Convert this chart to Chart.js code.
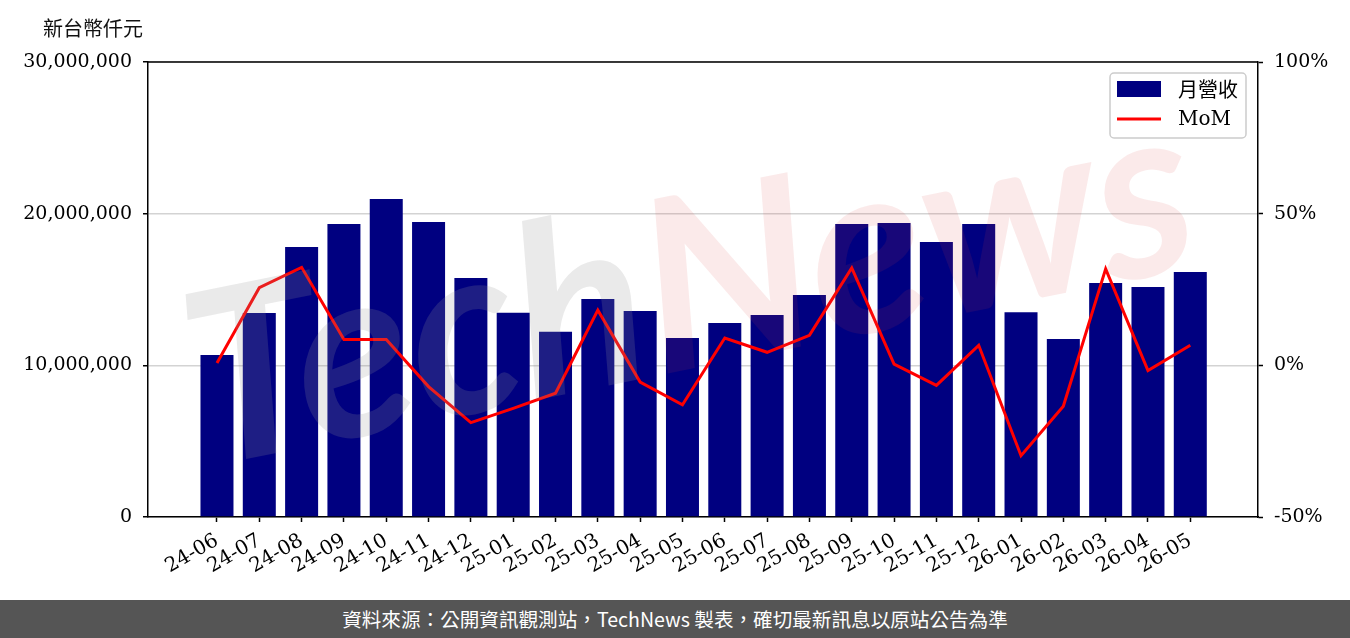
<!DOCTYPE html>
<html lang="zh-Hant">
<head>
  <meta charset="UTF-8" />
  <title>月營收</title>
  <script src="https://cdn.jsdelivr.net/npm/chart.js"></script>
  <style>
    body {
      margin: 0;
      background: #ffffff;
    }

    .wrap {
      position: relative;
      width: 1350px;
      height: 600px;
    }

    #unit {
      position: absolute;
      left: 43px;
      top: 13px;
      font-size: 20px;
      font-family: "Noto Sans CJK TC", sans-serif;
      color: #111;
    }

    .footer {
      width: 1350px;
      height: 38px;
      background: #555555;
      color: #ffffff;
      text-align: center;
      line-height: 38px;
      font-size: 19.6px;
      font-family: "Noto Sans CJK TC", sans-serif;
    }
  </style>
</head>
<body>

<div class="wrap">
  <div id="unit">新台幣仟元</div>
  <canvas id="revChart" width="1350" height="600"></canvas>
</div>
<div class="footer">資料來源：公開資訊觀測站，TechNews 製表，確切最新訊息以原站公告為準</div>

<script>
// data
const months = ['24-06', '24-07', '24-08', '24-09', '24-10', '24-11', '24-12',
  '25-01', '25-02', '25-03', '25-04', '25-05', '25-06', '25-07', '25-08', '25-09',
  '25-10', '25-11', '25-12', '26-01', '26-02', '26-03', '26-04', '26-05'];

// 月營收 (新台幣仟元)
const revenue = [10680000, 13450000, 17800000, 19320000, 20970000, 19450000, 15760000,
  13470000, 12220000, 14370000, 13580000, 11800000, 12790000, 13320000, 14640000, 19320000,
  19380000, 18130000, 19320000, 13500000, 11730000, 15430000, 15160000, 16150000];

// MoM (%)
const mom = [0.8, 25.6, 32.3, 8.5, 8.5, -7.0, -18.9,
  -14.2, -9.2, 18.2, -5.5, -13.0, 9.0, 4.3, 9.9, 32.1,
  0.4, -6.6, 6.6, -29.8, -13.5, 31.8, -1.7, 6.6];

const revTicks = [0, 10000000, 20000000, 30000000];
const pctTicks = [-50, 0, 50, 100];

const serif = '"DejaVu Serif", serif';

// faint TechNews mark across the plot
const watermark = {
  id: 'watermark',
  afterDatasetsDraw(chart) {
    const c = chart.ctx;
    c.save();
    c.translate(690, 290);
    c.rotate(-0.2);
    c.font = 'italic bold 240px Lato, sans-serif';
    c.textBaseline = 'middle';
    const w1 = c.measureText('Tech').width;
    const w2 = c.measureText('News').width;
    const x0 = -(w1 + w2) / 2;
    c.fillStyle = 'rgba(150, 150, 150, 0.2)';
    c.fillText('Tech', x0, 0);
    c.fillStyle = 'rgba(220, 60, 60, 0.11)';
    c.fillText('News', x0 + w1, 0);
    c.restore();
  }
};

// top edge of the frame + legend box
const frame = {
  id: 'frame',
  afterDraw(chart) {
    const c = chart.ctx;
    const a = chart.chartArea;
    c.save();
    c.strokeStyle = '#000';
    c.lineWidth = 1.5;
    c.beginPath();
    c.moveTo(a.left, a.top);
    c.lineTo(a.right, a.top);
    c.stroke();

    // legend
    const bx = 1110, by = 73, bw = 136, bh = 65;
    c.fillStyle = 'rgba(255,255,255,0.8)';
    c.strokeStyle = '#cccccc';
    c.lineWidth = 1.5;
    c.beginPath();
    c.roundRect(bx, by, bw, bh, 4);
    c.fill();
    c.stroke();

    const bar = chart.data.datasets[1];
    const line = chart.data.datasets[0];
    c.fillStyle = bar.backgroundColor;
    c.fillRect(1117, 81, 44, 16);
    c.strokeStyle = line.borderColor;
    c.lineWidth = 3;
    c.beginPath();
    c.moveTo(1117, 119);
    c.lineTo(1161, 119);
    c.stroke();

    c.fillStyle = '#000';
    c.textBaseline = 'middle';
    c.font = '20px "Noto Sans CJK TC", sans-serif';
    c.fillText(bar.label, 1178, 89);
    c.font = '20px ' + serif;
    c.fillText(line.label, 1178, 120);
    c.restore();
  }
};

const ctx = document.getElementById('revChart').getContext('2d');
new Chart(ctx, {
  type: 'bar',
  data: {
    datasets: [{
      type: 'line',
      label: 'MoM',
      data: mom.map((v, i) => ({ x: i, y: v })),
      yAxisID: 'y1',
      borderColor: '#ff0000',
      borderWidth: 3,
      pointRadius: 0,
      tension: 0,
      order: 0
    }, {
      type: 'bar',
      label: '月營收',
      data: revenue.map((v, i) => ({ x: i, y: v })),
      yAxisID: 'y',
      backgroundColor: '#000080',
      barPercentage: 0.78,
      categoryPercentage: 1,
      order: 1
    }]
  },
  options: {
    responsive: false,
    animation: false,
    layout: { padding: { top: 62, left: 0, right: 0, bottom: 0 } },
    plugins: {
      legend: { display: false },
      tooltip: { enabled: false }
    },
    scales: {
      x: {
        type: 'linear',
        offset: false,
        min: -1.63,
        max: 24.6,
        afterBuildTicks: s => { s.ticks = months.map((_, i) => ({ value: i })); },
        afterFit: s => { s.height = 83; },
        ticks: {
          autoSkip: false,
          minRotation: 30,
          maxRotation: 30,
          callback: v => months[v],
          color: '#000',
          font: { family: serif, size: 20 },
          padding: 7
        },
        grid: { offset: false, drawOnChartArea: false, tickLength: 5, tickColor: '#000', tickWidth: 1.5 },
        border: { color: '#000', width: 1.5 }
      },
      y: {
        position: 'left',
        min: 0,
        max: 30000000,
        afterBuildTicks: s => { s.ticks = revTicks.map(v => ({ value: v })); },
        afterFit: s => { s.width = 148; },
        ticks: {
          callback: v => v.toLocaleString('en-US'),
          color: '#000',
          font: { family: serif, size: 19 },
          padding: 11
        },
        grid: { color: '#d3d3d3', lineWidth: 1.5, tickLength: 5, tickColor: '#000', tickWidth: 1.5 },
        border: { color: '#000', width: 1.5 }
      },
      y1: {
        position: 'right',
        min: -50,
        max: 100,
        afterBuildTicks: s => { s.ticks = pctTicks.map(v => ({ value: v })); },
        afterFit: s => { s.width = 92; },
        ticks: {
          callback: v => v + '%',
          color: '#000',
          font: { family: serif, size: 19 },
          padding: 11
        },
        grid: { drawOnChartArea: false, tickLength: 5, tickColor: '#000', tickWidth: 1.5 },
        border: { color: '#000', width: 1.5 }
      }
    }
  },
  plugins: [watermark, frame]
});
</script>

</body>
</html>
